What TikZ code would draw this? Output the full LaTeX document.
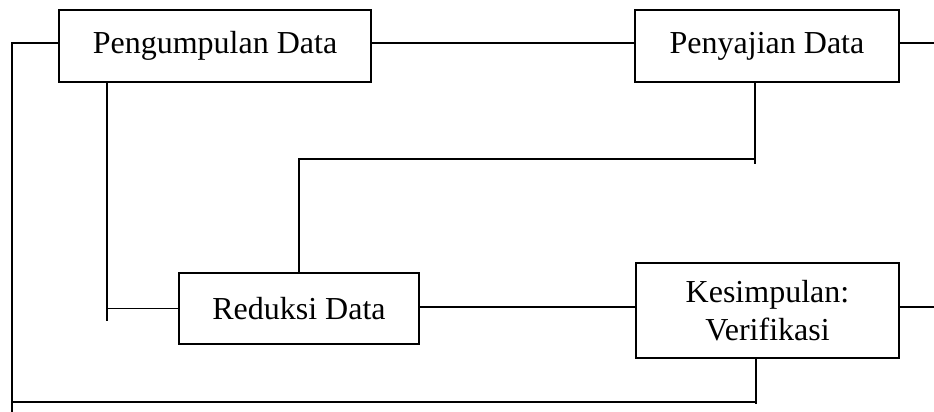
\documentclass[tikz,border=0pt]{standalone}
\usepackage{fontspec}
\setmainfont{Liberation Serif}
\begin{document}
\begin{tikzpicture}[x=0.5pt,y=-0.5pt,
  stagebox/.style={draw,line width=0.9pt,fill=white,inner sep=0pt,
    font=\fontsize{16}{19}\selectfont,align=center},
  link/.style={line width=0.9pt}]
\useasboundingbox (0,0) rectangle (934,412);

% stages of the interactive analysis model
\node[stagebox,minimum width=156pt,minimum height=36pt] (P) at (215,46) {Pengumpulan Data};
\node[stagebox,minimum width=132pt,minimum height=36pt] (S) at (767,46) {Penyajian Data};
\node[stagebox,minimum width=120pt,minimum height=35.5pt] (R) at (299,308.5) {Reduksi Data};
\node[stagebox,minimum width=131.5pt,minimum height=47.5pt] (K) at (767.5,310.5) {Kesimpulan:\\Verifikasi};

% helper coordinates for the routing
\coordinate (xl) at (12,0);
\coordinate (xp) at (107,0);
\coordinate (xr) at (299,0);
\coordinate (xs) at (755,0);
\coordinate (xk) at (756,0);
\coordinate (yt) at (0,43);
\coordinate (ym) at (0,307);
\coordinate (yh) at (0,159);
\coordinate (yb) at (0,402);
\coordinate (rightedge) at (934,0);

% top row
\draw[link] (P.east |- yt) -- (S.west |- yt);
\draw[link] (S.east |- yt) -- (rightedge |- yt);

% middle row
\draw[link] (R.east |- ym) -- (K.west |- ym);
\draw[link] (K.east |- ym) -- (rightedge |- ym);

% Pengumpulan -> Reduksi
\draw[link] (P.south -| xp) -- ([yshift=-6pt]xp |- R.west);
\draw[link] (xp |- R.west) -- (R.west);

% Penyajian <-> Reduksi
\draw[link] (S.south -| xs) -- ([yshift=-2.5pt]xs |- yh);
\draw[link] (xs |- yh) -- (xr |- yh) -- (R.north -| xr);

% outer loop: Pengumpulan -> Kesimpulan
\draw[link] (P.west |- yt) -- (xl |- yt) -- (0,412 -| xl);
\draw[link] (xl |- yb) -- (xk |- yb);
\draw[link] (K.south -| xk) -- ([yshift=-1pt]xk |- yb);
\end{tikzpicture}
\end{document}
